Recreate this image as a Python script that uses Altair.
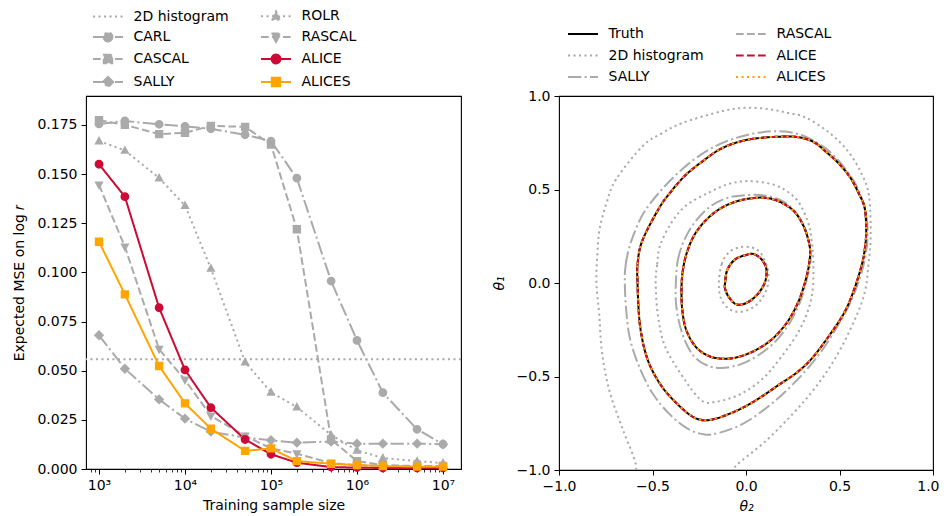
import altair as alt
import pandas as pd

# ---------------- left panel: expected MSE vs training sample size ----------------
sample_sizes = [1e3, 2e3, 5e3, 1e4, 2e4, 5e4, 1e5, 2e5, 5e5, 1e6, 2e6, 5e6, 1e7]
mse_carl   = [0.1755, 0.1770, 0.1753, 0.1743, 0.1730, 0.1700, 0.1668, 0.1479, 0.0956, 0.0654, 0.0388, 0.0202, 0.0126]
mse_cascal = [0.1774, 0.1750, 0.1703, 0.1710, 0.1745, 0.1740, 0.1650, 0.1219, 0.0150, 0.0040, 0.0020, 0.0015, 0.0015]
mse_sally  = [0.0680, 0.0510, 0.0354, 0.0256, 0.0190, 0.0160, 0.0146, 0.0134, 0.0140, 0.0129, 0.0129, 0.0129, 0.0126]
mse_rolr   = [0.1668, 0.1620, 0.1480, 0.1340, 0.1020, 0.0544, 0.0390, 0.0315, 0.0173, 0.0095, 0.0056, 0.0040, 0.0030]
mse_rascal = [0.1445, 0.1130, 0.0609, 0.0453, 0.0270, 0.0168, 0.0105, 0.0078, 0.0030, 0.0020, 0.0015, 0.0010, 0.0010]
mse_alice  = [0.1550, 0.1385, 0.0820, 0.0504, 0.0312, 0.0150, 0.0075, 0.0032, 0.0010, 0.0007, 0.0005, 0.0005, 0.0005]
mse_alices = [0.1156, 0.0888, 0.0524, 0.0334, 0.0205, 0.0092, 0.0105, 0.0040, 0.0027, 0.0020, 0.0015, 0.0012, 0.0012]
mse_hist2d = 0.0558

GRAY = "#aaaaaa"
RED = "#cc0a35"
ORANGE = "#ffa500"

DOT = [2.1, 3.4]
DASH = [7.7, 3.3]
DASHDOT = [13.3, 3.3, 2.1, 3.3]
SOLID = [1, 0]

# legend fills column by column (2 columns)
left_domain = ["2D histogram", "CARL", "CASCAL", "SALLY", "ROLR", "RASCAL", "ALICE", "ALICES"]
left_colors = [GRAY, GRAY, GRAY, GRAY, GRAY, GRAY, RED, ORANGE]
left_dashes = [DOT, DASHDOT, DASH, DASHDOT, DOT, DASH, SOLID, SOLID]

STUB = "M-3.75,0H3.75"
P_CIRCLE = STUB + "M1.1,0A1.1,1.1,0,1,1,-1.1,0A1.1,1.1,0,1,1,1.1,0Z"
P_SQUARE = STUB + "M-1.05,-1.05H1.05V1.05H-1.05Z"
P_DIAMOND = STUB + "M0,-1.3L1.3,0L0,1.3L-1.3,0Z"
P_TRI_UP = STUB + "M0,-1.25L1.15,0.85H-1.15Z"
P_TRI_DOWN = STUB + "M0,1.25L1.15,-0.85H-1.15Z"
left_shapes = [STUB, P_CIRCLE, P_SQUARE, P_DIAMOND, P_TRI_UP, P_TRI_DOWN, P_CIRCLE, P_SQUARE]

series_values = {
    "CARL": mse_carl, "CASCAL": mse_cascal, "SALLY": mse_sally, "ROLR": mse_rolr,
    "RASCAL": mse_rascal, "ALICE": mse_alice, "ALICES": mse_alices,
}
rows = []
for name, vals in series_values.items():
    for n, v in zip(sample_sizes, vals):
        rows.append({"series": name, "n": n, "mse": v})
df_left = pd.DataFrame(rows)
df_hist = pd.DataFrame({"series": ["2D histogram"], "mse": [mse_hist2d]})

FONT = "DejaVu Sans"
FS = 14

def make_legend():
    return alt.Legend(
        title=None, orient="none", legendX=15, legendY=-87, columns=2,
        columnPadding=28, rowPadding=4, symbolSize=64, symbolStrokeWidth=2,
        labelFontSize=FS, labelFont=FONT, labelColor="black", labelOffset=18.5,
        symbolOpacity=1,
    )

minor_ticks = [m * 10 ** e for e in range(2, 8) for m in range(1, 10)]
x_ticks = [t for t in minor_ticks if 706 <= t <= 1.62e7]

x_left = alt.X(
    "n:Q",
    scale=alt.Scale(type="log", domain=[706, 1.62e7], nice=False),
    axis=alt.Axis(
        title="Training sample size", values=x_ticks, labelOverlap=False, labelFlush=False, titlePadding=6,
        labelExpr="datum.value == 1000 ? '10³' : datum.value == 10000 ? '10⁴' : datum.value == 100000 ? '10⁵' : datum.value == 1000000 ? '10⁶' : datum.value == 10000000 ? '10⁷' : ''",
        tickSize={"condition": {"test": "indexof([1000,10000,100000,1000000,10000000], datum.value) >= 0", "value": 5}, "value": 3},
        tickWidth={"condition": {"test": "indexof([1000,10000,100000,1000000,10000000], datum.value) >= 0", "value": 1}, "value": 0.8},
    ),
)
y_left = alt.Y(
    "mse:Q",
    scale=alt.Scale(domain=[0, 0.1897], nice=False, zero=False),
    axis=alt.Axis(title="Expected MSE on log 𝑟", values=[0, 0.025, 0.05, 0.075, 0.1, 0.125, 0.15, 0.175],
                  format=".3f", titlePadding=10, labelFlush=False),
)

color_l = alt.Color("series:N", scale=alt.Scale(domain=left_domain, range=left_colors), legend=make_legend())
dash_l = alt.StrokeDash("series:N", scale=alt.Scale(domain=left_domain, range=left_dashes), legend=make_legend())
shape_l = alt.Shape("series:N", scale=alt.Scale(domain=left_domain, range=left_shapes), legend=make_legend())

rule = alt.Chart(df_hist).mark_rule(strokeWidth=2).encode(y=y_left, color=color_l, strokeDash=dash_l)
lines = alt.Chart(df_left).mark_line(strokeWidth=2).encode(x=x_left, y=y_left, color=color_l, strokeDash=dash_l, detail="series:N")
points = alt.Chart(df_left).mark_point(filled=True, size=64, opacity=1).encode(x=x_left, y=y_left, color=color_l, shape=shape_l)

left = alt.layer(rule, lines, points).properties(width=375, height=373)

# ---------------- right panel: contours in (theta2, theta1) ----------------
truth_inner = [(-0.112, 0.0), (-0.10, 0.07), (-0.06, 0.125), (0.0, 0.15), (0.04, 0.155), (0.08, 0.13),
               (0.105, 0.09), (0.11, 0.05), (0.10, 0.0), (0.07, -0.05), (0.03, -0.09), (-0.02, -0.115),
               (-0.06, -0.11), (-0.095, -0.07), (-0.112, -0.03)]
truth_middle = [(-0.345, -0.05), (-0.34, 0.05), (-0.32, 0.15), (-0.28, 0.25), (-0.22, 0.33), (-0.15, 0.39),
                (-0.07, 0.43), (0.02, 0.452), (0.11, 0.455), (0.19, 0.43), (0.26, 0.38), (0.31, 0.30),
                (0.34, 0.20), (0.34, 0.12), (0.32, 0.02), (0.28, -0.10), (0.22, -0.21), (0.14, -0.30),
                (0.05, -0.36), (-0.04, -0.395), (-0.12, -0.405), (-0.20, -0.39), (-0.27, -0.34),
                (-0.32, -0.25), (-0.34, -0.15)]
truth_outer = [(-0.58, 0.0), (-0.58, 0.10), (-0.555, 0.225), (-0.465, 0.40), (-0.40, 0.49), (-0.32, 0.58),
               (-0.22, 0.66), (-0.13, 0.72), (-0.02, 0.76), (0.09, 0.777), (0.20, 0.783), (0.28, 0.78),
               (0.36, 0.755), (0.43, 0.70), (0.50, 0.635), (0.56, 0.56), (0.605, 0.475), (0.635, 0.40),
               (0.643, 0.28), (0.635, 0.18), (0.62, 0.10), (0.58, -0.03), (0.53, -0.15), (0.46, -0.26),
               (0.355, -0.40), (0.27, -0.48), (0.175, -0.545), (0.08, -0.61), (0.0, -0.658), (-0.09, -0.70),
               (-0.18, -0.73), (-0.25, -0.73), (-0.32, -0.69), (-0.43, -0.58), (-0.50, -0.47),
               (-0.54, -0.365), (-0.565, -0.24), (-0.575, -0.13)]
sally_middle = [(-0.375, 0.0), (-0.365, 0.12), (-0.33, 0.23), (-0.27, 0.33), (-0.19, 0.41), (-0.10, 0.455),
                (0.0, 0.47), (0.10, 0.468), (0.19, 0.44), (0.26, 0.385), (0.31, 0.30), (0.34, 0.20),
                (0.345, 0.12), (0.325, 0.02), (0.29, -0.10), (0.23, -0.22), (0.15, -0.32), (0.06, -0.39),
                (-0.03, -0.435), (-0.13, -0.455), (-0.21, -0.44), (-0.28, -0.39), (-0.33, -0.30),
                (-0.36, -0.20), (-0.375, -0.10)]
sally_outer = [(-0.648, 0.0), (-0.643, 0.10), (-0.615, 0.22), (-0.55, 0.37), (-0.45, 0.50), (-0.34, 0.61),
               (-0.22, 0.70), (-0.10, 0.76), (0.02, 0.795), (0.12, 0.81), (0.21, 0.81), (0.30, 0.79),
               (0.38, 0.75), (0.45, 0.70), (0.52, 0.625), (0.58, 0.54), (0.62, 0.45), (0.645, 0.35),
               (0.65, 0.25), (0.64, 0.15), (0.61, 0.03), (0.56, -0.10), (0.49, -0.23), (0.40, -0.37),
               (0.30, -0.49), (0.19, -0.60), (0.08, -0.69), (-0.03, -0.76), (-0.14, -0.80), (-0.22, -0.81),
               (-0.31, -0.78), (-0.41, -0.70), (-0.50, -0.59), (-0.57, -0.45), (-0.62, -0.30), (-0.64, -0.15)]
hist_inner = [(-0.145, 0.0), (-0.13, 0.10), (-0.09, 0.165), (-0.03, 0.192), (0.03, 0.19), (0.075, 0.165),
              (0.105, 0.11), (0.12, 0.05), (0.115, -0.02), (0.08, -0.09), (0.03, -0.135), (-0.037, -0.155),
              (-0.095, -0.135), (-0.135, -0.08)]
hist_middle = [(-0.483, 0.0), (-0.475, 0.10), (-0.46, 0.20), (-0.40, 0.32), (-0.323, 0.412), (-0.20, 0.483),
               (-0.09, 0.53), (0.016, 0.545), (0.14, 0.528), (0.22, 0.49), (0.283, 0.43), (0.33, 0.33),
               (0.348, 0.25), (0.36, 0.11), (0.35, -0.08), (0.283, -0.257), (0.158, -0.435), (0.08, -0.52),
               (0.0, -0.578), (-0.08, -0.615), (-0.162, -0.635), (-0.234, -0.631), (-0.323, -0.524),
               (-0.43, -0.346), (-0.47, -0.18)]
hist_outer = [(-0.62, -1.08), (-0.588, -0.979), (-0.66, -0.78), (-0.73, -0.578), (-0.77, -0.37),
              (-0.785, -0.168), (-0.80, 0.0), (-0.795, 0.15), (-0.783, 0.287), (-0.745, 0.43),
              (-0.695, 0.554), (-0.552, 0.733), (-0.45, 0.80), (-0.337, 0.857), (-0.123, 0.92),
              (0.005, 0.937), (0.12, 0.93), (0.22, 0.91), (0.319, 0.885), (0.45, 0.80), (0.551, 0.697),
              (0.62, 0.58), (0.658, 0.465), (0.667, 0.251), (0.655, 0.10), (0.635, -0.05), (0.58, -0.20),
              (0.479, -0.40), (0.37, -0.56), (0.248, -0.702), (0.10, -0.85), (-0.055, -0.979), (-0.09, -1.05)]

contours = {
    "2D histogram": [("inner", hist_inner, "closed"), ("middle", hist_middle, "closed"), ("outer", hist_outer, "open")],
    "SALLY": [("inner", truth_inner, "closed"), ("middle", sally_middle, "closed"), ("outer", sally_outer, "closed")],
    "RASCAL": [("inner", truth_inner, "closed"), ("middle", truth_middle, "closed"), ("outer", truth_outer, "closed")],
    "Truth": [("inner", truth_inner, "closed"), ("middle", truth_middle, "closed"), ("outer", truth_outer, "closed")],
    "ALICE": [("inner", truth_inner, "closed"), ("middle", truth_middle, "closed"), ("outer", truth_outer, "closed")],
    "ALICES": [("inner", truth_inner, "closed"), ("middle", truth_middle, "closed"), ("outer", truth_outer, "closed")],
}
rrows = []
for name, items in contours.items():
    for level, pts, kind in items:
        for i, (t2, t1) in enumerate(pts):
            rrows.append({"series": name, "level": level, "kind": kind, "idx": i, "t2": t2, "t1": t1})
df_right = pd.DataFrame(rrows)

right_domain = ["Truth", "2D histogram", "SALLY", "RASCAL", "ALICE", "ALICES"]
right_colors = ["black", GRAY, GRAY, GRAY, RED, ORANGE]
right_dashes = [SOLID, DOT, DASHDOT, DASH, DASH, DOT]

def right_legend():
    return alt.Legend(
        title=None, orient="none", legendX=17, legendY=-69, columns=2,
        columnPadding=28, rowPadding=7.5, symbolSize=64, symbolStrokeWidth=2,
        symbolType=STUB, labelFontSize=FS, labelFont=FONT, labelColor="black", labelOffset=18.5,
    )

color_r = alt.Color("series:N", scale=alt.Scale(domain=right_domain, range=right_colors), legend=right_legend())
dash_r = alt.StrokeDash("series:N", scale=alt.Scale(domain=right_domain, range=right_dashes), legend=right_legend())
x_r = alt.X("t2:Q", scale=alt.Scale(domain=[-1, 1], nice=False),
            axis=alt.Axis(title="θ₂", values=[-1, -0.5, 0, 0.5, 1], format=".1f", titleFontStyle="italic",
                          titlePadding=6, labelFlush=False,
                          labelAlign={"condition": {"test": "datum.value >= 1", "value": "right"}, "value": "center"},
                          labelOffset={"condition": {"test": "datum.value >= 1", "value": 6}, "value": 0}))
y_r = alt.Y("t1:Q", scale=alt.Scale(domain=[-1, 1], nice=False),
            axis=alt.Axis(title="θ₁", values=[-1, -0.5, 0, 0.5, 1], format=".1f", titleFontStyle="italic",
                          titlePadding=10, labelFlush=False))

def contour_layer(name, kind, interp):
    return (
        alt.Chart(df_right)
        .transform_filter((alt.datum.series == name) & (alt.datum.kind == kind))
        .mark_line(strokeWidth=2, interpolate=interp, clip=True)
        .encode(x=x_r, y=y_r, color=color_r, strokeDash=dash_r, detail="level:N", order="idx:Q")
    )

right_layers = [
    contour_layer("2D histogram", "closed", "cardinal-closed"),
    contour_layer("2D histogram", "open", "cardinal"),
    contour_layer("SALLY", "closed", "cardinal-closed"),
    contour_layer("RASCAL", "closed", "cardinal-closed"),
    contour_layer("Truth", "closed", "cardinal-closed"),
    contour_layer("ALICE", "closed", "cardinal-closed"),
    contour_layer("ALICES", "closed", "cardinal-closed"),
]
right = alt.layer(*right_layers).properties(width=374, height=374)

chart = (
    alt.hconcat(left, right, spacing=28)
    .resolve_scale(color="independent", strokeDash="independent", shape="independent", x="independent", y="independent")
    .resolve_legend(color="independent", strokeDash="independent", shape="independent")
    .properties(padding={"left": 4, "top": 0, "right": 0, "bottom": 0})
    .configure_view(stroke="black", strokeWidth=1.1)
    .configure_axis(
        grid=False, domain=False, tickColor="black", tickSize=5, tickWidth=1,
        labelFont=FONT, titleFont=FONT, labelFontSize=FS, titleFontSize=FS,
        labelColor="black", titleColor="black", titleFontWeight="normal", labelPadding=4,
    )
)

chart.save("out.html", embed_options={"renderer": "svg", "actions": False})
